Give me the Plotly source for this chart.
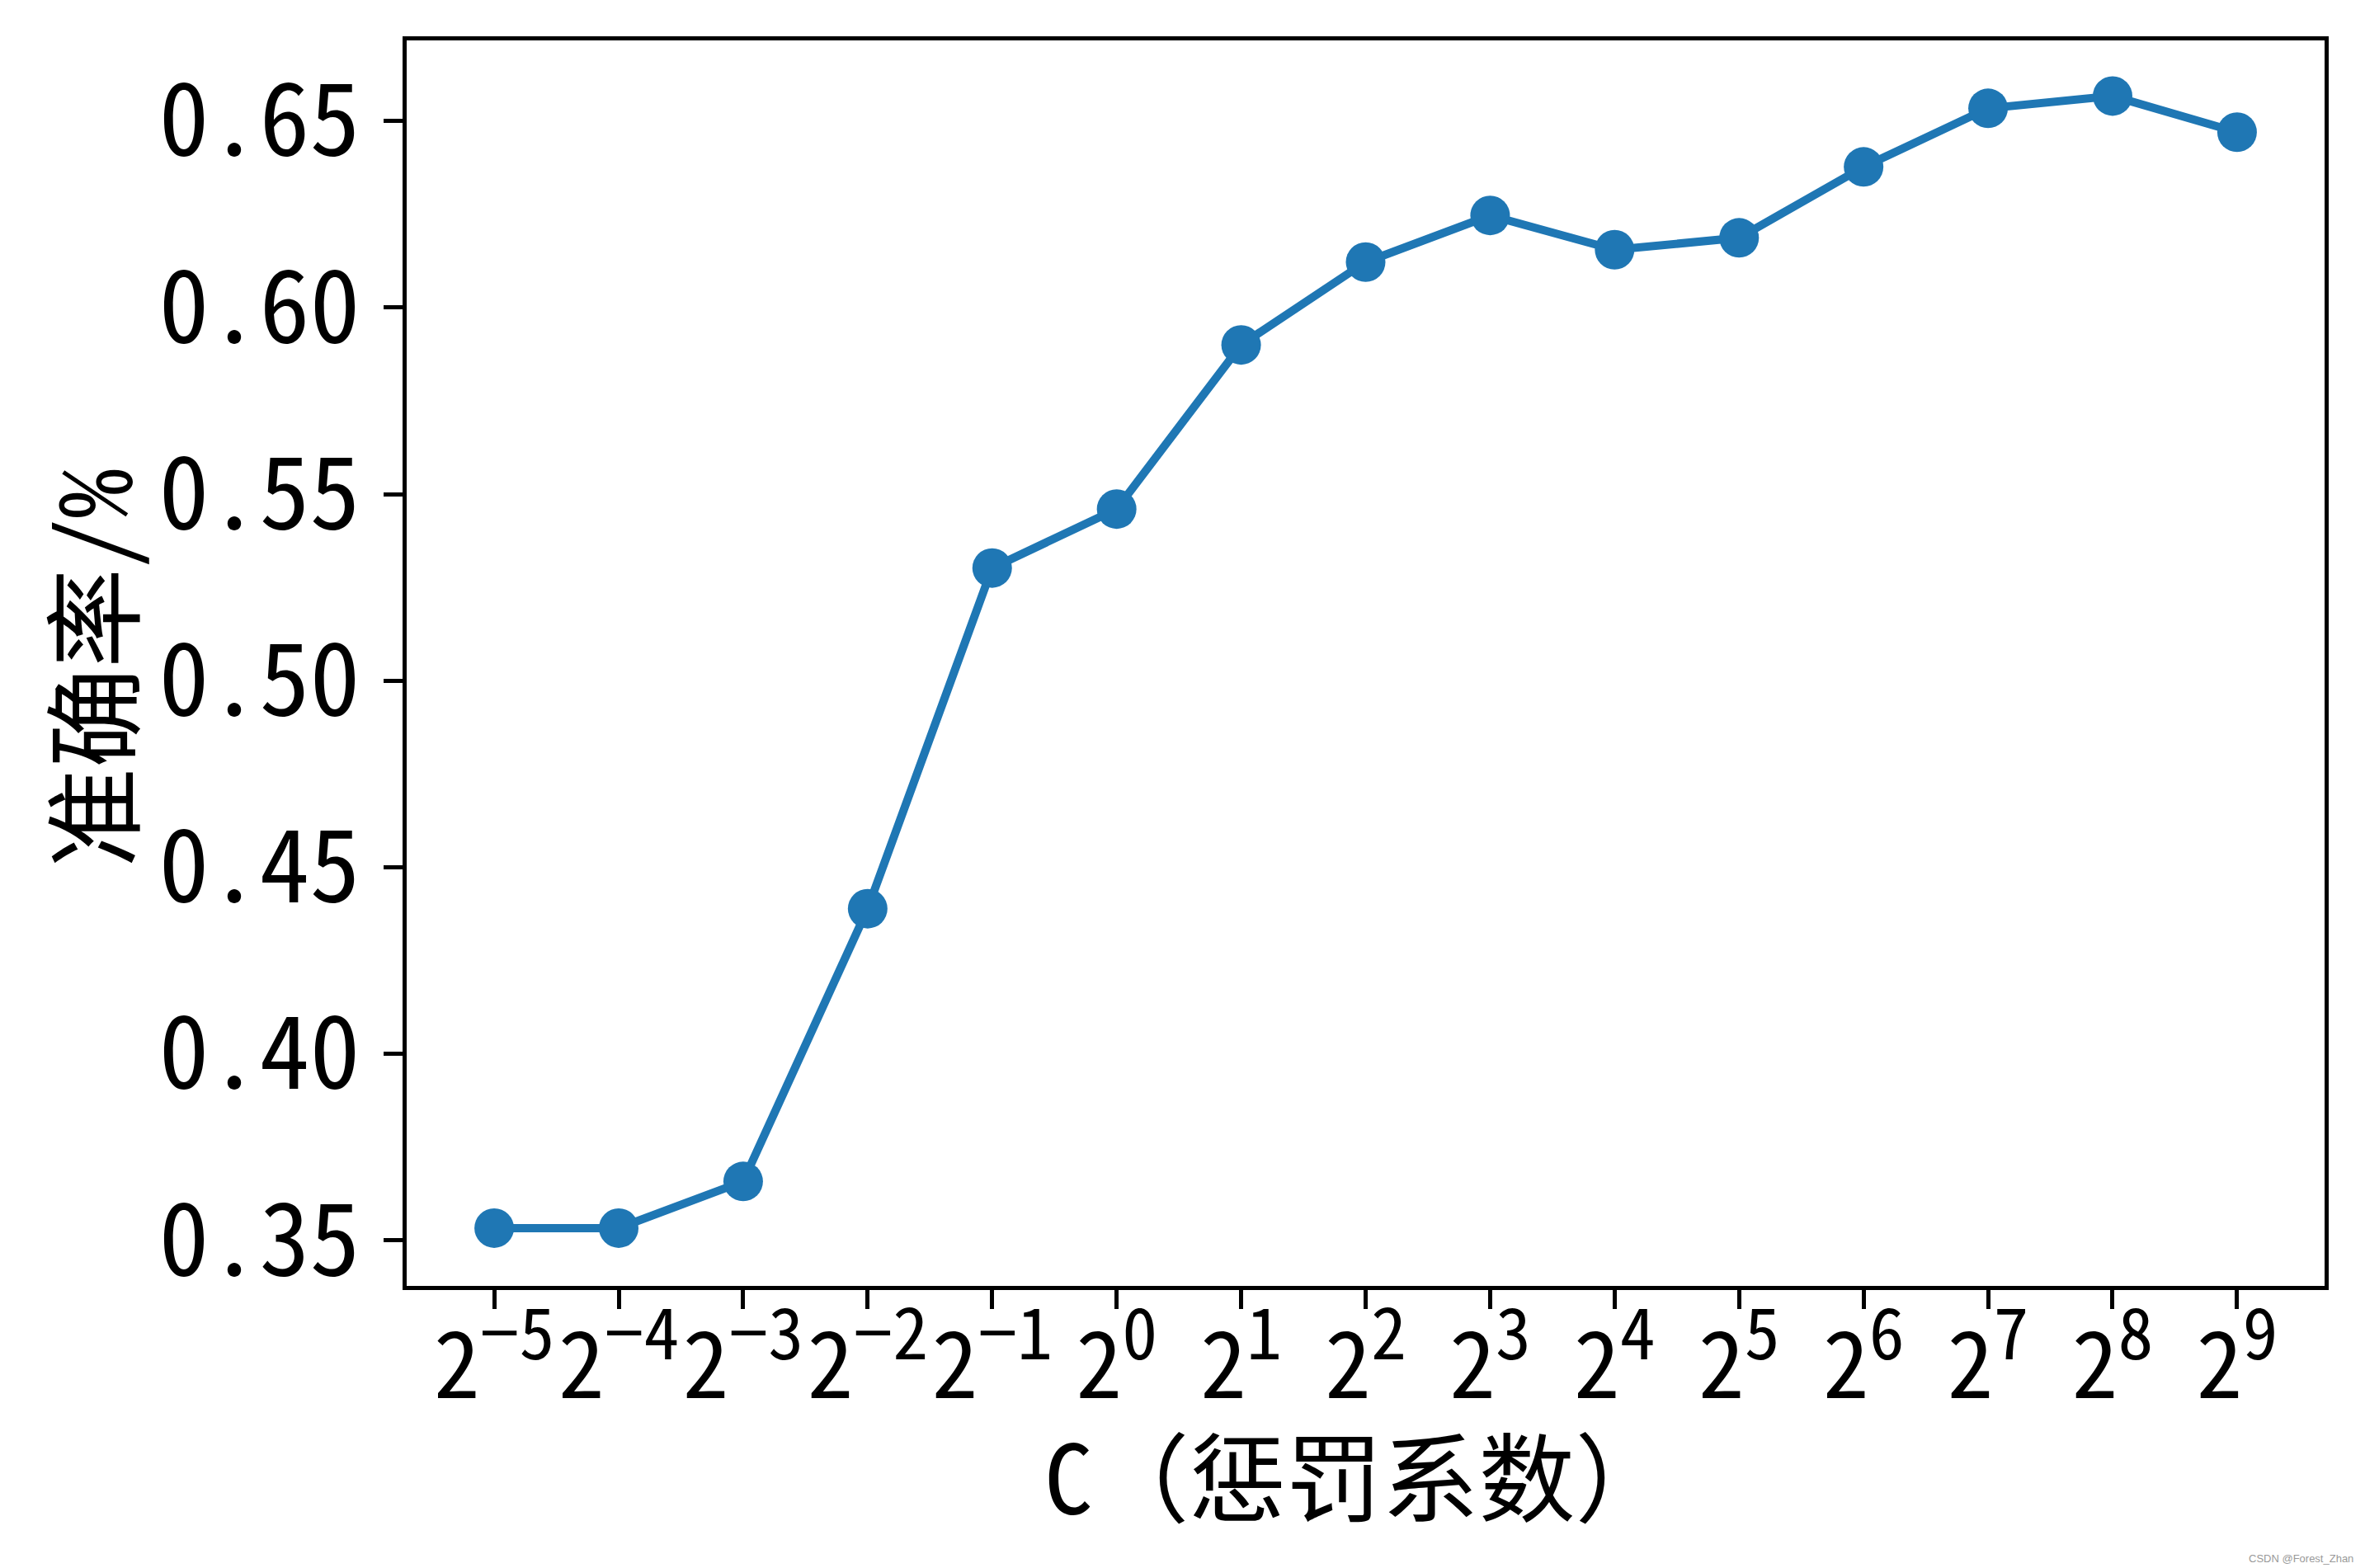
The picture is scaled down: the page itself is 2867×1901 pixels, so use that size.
import plotly.graph_objects as go

# Data
exponents = [-5, -4, -3, -2, -1, 0, 1, 2, 3, 4, 5, 6, 7, 8, 9]
accuracy = [0.3533, 0.3533, 0.3658, 0.4389, 0.5302, 0.5460, 0.5900, 0.6122,
            0.6247, 0.6155, 0.6187, 0.6377, 0.6534, 0.6567, 0.6470]
exp_labels = ["\u2212%d" % -e if e < 0 else "%d" % e for e in exponents]
x_tick_labels = ["2<sup><span style='font-size:86px'>%s</span></sup>" % s for s in exp_labels]
y_ticks = [0.35, 0.40, 0.45, 0.50, 0.55, 0.60, 0.65]
y_tick_labels = ["0.35", "0.40", "0.45", "0.50", "0.55", "0.60", "0.65"]
x_title = "C（惩罚系数）"
y_title = "准确率/%"

FONT = "Noto Sans Mono CJK SC, Noto Sans CJK SC, sans-serif"

fig = go.Figure()
fig.add_trace(go.Scatter(
    x=exponents, y=accuracy, mode="lines+markers",
    line=dict(color="#1f77b4", width=10),
    marker=dict(color="#1f77b4", size=48, line=dict(width=0)),
    showlegend=False,
))

# page has an 8px body margin, so the figure is a bit smaller than the window
W, H = 2859, 1893
L, R, T, B = 485, 49, 41, 342
PW, PH = W - L - R, H - T - B


def px(xf):
    return (xf - L) / PW


def py(yf):
    return (H - B - yf) / PH


fig.update_layout(
    width=W, height=H,
    margin=dict(l=L, r=R, t=T, b=B, pad=0),
    paper_bgcolor="white", plot_bgcolor="white",
    xaxis=dict(
        range=[-5.703, 9.703], tickmode="array", tickvals=exponents, ticktext=x_tick_labels,
        showline=True, linecolor="black", linewidth=5, mirror=True,
        ticks="outside", ticklen=23, tickwidth=5, tickcolor="black",
        showgrid=False, zeroline=False,
        tickfont=dict(family=FONT, size=112, color="black"),
        ticklabelstandoff=-26,
    ),
    yaxis=dict(
        range=[0.3378, 0.6716], tickmode="array", tickvals=y_ticks, ticktext=y_tick_labels,
        showline=True, linecolor="black", linewidth=5, mirror=True,
        ticks="outside", ticklen=23, tickwidth=5, tickcolor="black",
        showgrid=False, zeroline=False,
        tickfont=dict(family=FONT, size=122, color="black"),
        ticklabelstandoff=4,
    ),
    annotations=[
        dict(text=x_title, xref="paper", yref="paper",
             x=px(1638), y=py(1777),
             xanchor="center", yanchor="middle", showarrow=False,
             font=dict(family=FONT, size=117, color="black")),
        dict(text=y_title, xref="paper", yref="paper",
             x=px(99), y=py(802),
             xanchor="center", yanchor="middle", showarrow=False, textangle=-90,
             font=dict(family=FONT, size=121, color="black")),
        dict(text="CSDN @Forest_Zhan", xref="paper", yref="paper",
             x=px(2847), y=py(1881),
             xanchor="right", yanchor="middle", showarrow=False,
             font=dict(family="Liberation Sans Narrow, Liberation Sans, sans-serif", size=13, color="#999999")),
    ],
)

fig.write_html("out.html")
